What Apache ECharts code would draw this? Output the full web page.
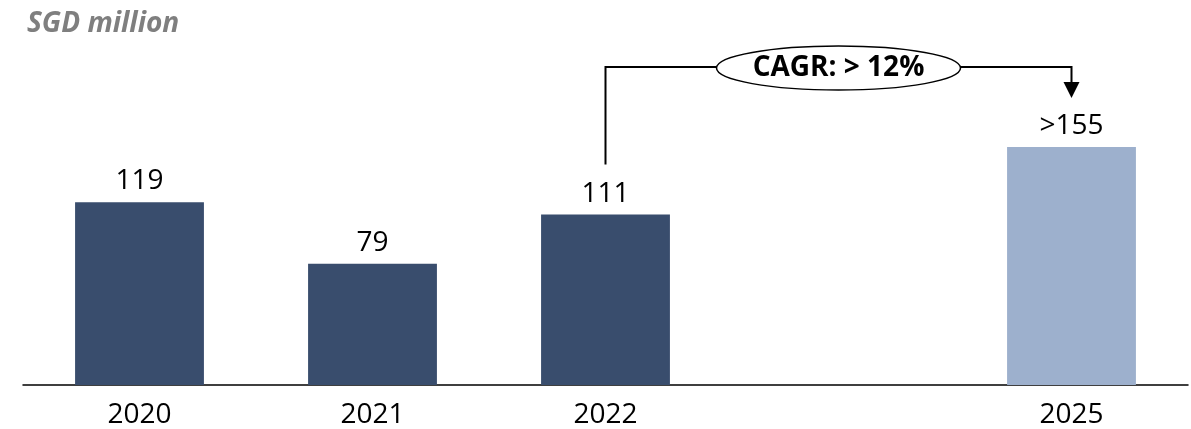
<!DOCTYPE html>
<html>
<head>
<meta charset="utf-8">
<script src="https://cdn.jsdelivr.net/npm/echarts@6/dist/echarts.min.js"></script>
<style>
html,body{margin:0;padding:0;background:#fff;}
#chart{width:1191px;height:429px;}
</style>
</head>
<body>
<div id="chart"></div>
<script>
var categories = ['2020', '2021', '2022', '', '2025'];
var values = [119, 79, 111, null, 155];
var valueLabels = ['119', '79', '111', '', '>155'];
var barColors = ['#394d6d', '#394d6d', '#394d6d', '#394d6d', '#9db0cd'];
var unitLabel = 'SGD million';
var cagrLabel = 'CAGR: > 12%';
var cagrFrom = 2; // index of start category
var cagrTo = 4;   // index of end category

var FONT = '"Open Sans", sans-serif';
var chart = echarts.init(document.getElementById('chart'));

var option = {
  animation: false,
  backgroundColor: '#ffffff',
  title: {
    text: unitLabel,
    left: 22,
    top: 5,
    textStyle: { fontFamily: FONT, fontSize: 28, fontWeight: 'bold', fontStyle: 'italic', color: '#7f7f7f' }
  },
  grid: { left: 23, right: 3, top: 78, bottom: 44 },
  xAxis: {
    type: 'category',
    data: categories,
    axisTick: { show: false },
    axisLine: { show: true, lineStyle: { color: '#000', width: 1.5 } },
    axisLabel: { fontFamily: FONT, fontSize: 28, color: '#000', margin: 16 }
  },
  yAxis: {
    type: 'value',
    min: 0,
    max: 200,
    show: false,
    splitLine: { show: false }
  },
  series: [{
    type: 'bar',
    barWidth: '55.3%',
    data: values.map(function (v, i) {
      return { value: v, itemStyle: { color: barColors[i] } };
    }),
    label: {
      show: true,
      position: 'top',
      distance: 7,
      fontFamily: FONT,
      fontSize: 28,
      color: '#000',
      formatter: function (p) { return valueLabels[p.dataIndex]; }
    }
  }]
};
chart.setOption(option);

function drawAnnotation() {
  var pFrom = chart.convertToPixel({ xAxisIndex: 0, yAxisIndex: 0 }, [cagrFrom, values[cagrFrom]]);
  var pTo = chart.convertToPixel({ xAxisIndex: 0, yAxisIndex: 0 }, [cagrTo, values[cagrTo]]);
  var pMid = chart.convertToPixel({ xAxisIndex: 0, yAxisIndex: 0 }, [(cagrFrom + cagrTo) / 2, 0]);
  var lineY = pTo[1] - 80;
  var startY = pFrom[1] - 50;
  var tipY = pTo[1] - 49;
  var rx = 122, ry = 22;
  var cx = pMid[0];
  var lineStyle = { stroke: '#000', lineWidth: 2, fill: null };
  chart.setOption({
    graphic: [
      { type: 'polyline', shape: { points: [[pFrom[0], startY], [pFrom[0], lineY], [cx - rx, lineY]] }, style: lineStyle, z: 10 },
      { type: 'polyline', shape: { points: [[cx + rx, lineY], [pTo[0], lineY], [pTo[0], tipY - 14]] }, style: lineStyle, z: 10 },
      { type: 'polygon', shape: { points: [[pTo[0] - 8, tipY - 16], [pTo[0] + 8, tipY - 16], [pTo[0], tipY]] }, style: { fill: '#000' }, z: 10 },
      { type: 'ellipse', shape: { cx: cx, cy: lineY + 1, rx: rx, ry: ry }, style: { fill: '#fff', stroke: '#000', lineWidth: 1.5 }, z: 11 },
      { type: 'text', x: cx, y: lineY + 1, style: { text: cagrLabel, font: 'bold 28px ' + FONT, fill: '#000', align: 'center', verticalAlign: 'middle' }, z: 12 }
    ]
  });
}
drawAnnotation();
</script>
</body>
</html>
